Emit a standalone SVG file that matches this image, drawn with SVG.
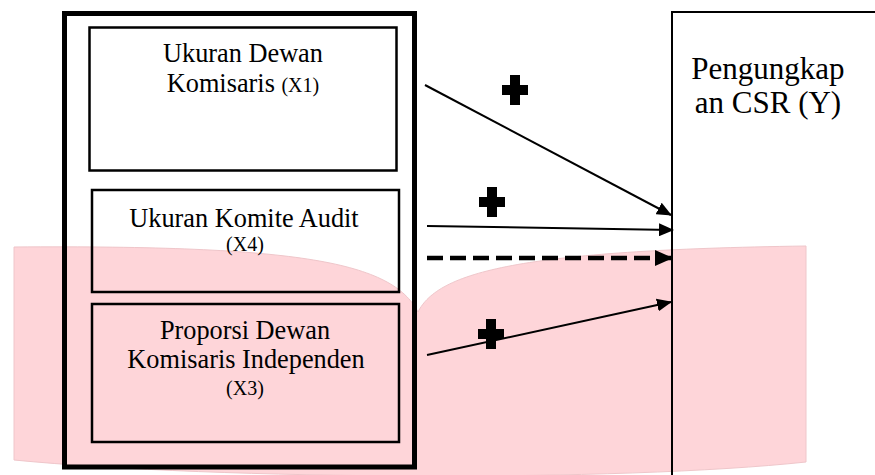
<svg xmlns="http://www.w3.org/2000/svg" width="875" height="475" viewBox="0 0 875 475">
<style>
.t{font-family:"Liberation Serif","Times New Roman",serif;fill:#000;text-anchor:middle}
.big{font-size:26.3px}
.sm{font-size:20px}
.box{fill:none;stroke:#000;stroke-width:2.5}
.con{stroke:#000;stroke-width:2;fill:none}
.plus{fill:#000}
</style>
<defs>
<marker id="ah" markerWidth="15" markerHeight="13" refX="14" refY="6.5" orient="auto" markerUnits="userSpaceOnUse" viewBox="0 0 15 13">
<path d="M0,0 L15,6.5 L0,13 z" fill="#000"/>
</marker>
<marker id="ahd" markerWidth="18" markerHeight="16" refX="17" refY="8" orient="auto" markerUnits="userSpaceOnUse" viewBox="0 0 18 16">
<path d="M0,0 L18,8 L0,16 z" fill="#000"/>
</marker>
</defs>
<path id="pink" d="M14,247 C300,245 392,262 418,312 C438,272 520,250 806,246 L806,462 C620,482 220,480 14,460 Z" fill="#FED5D9" stroke="#EFC6CA" stroke-width="1"/>
<g id="outer">
<rect x="64.5" y="13.5" width="350" height="453.5" fill="none" stroke="#000" stroke-width="5"/>
</g>
<g id="x1">
<rect class="box" x="89.5" y="27.5" width="307" height="143"/>
<text class="t big" x="243" y="62">Ukuran Dewan</text>
<text class="t big" x="243" y="92">Komisaris <tspan class="sm">(X1)</tspan></text>
</g>
<g id="x4">
<rect class="box" x="92" y="190" width="307" height="102"/>
<text class="t big" x="244" y="227">Ukuran Komite Audit</text>
<text class="t sm" x="245" y="251">(X4)</text>
</g>
<g id="x3">
<rect class="box" x="92" y="304" width="307" height="138"/>
<text class="t big" x="245" y="339">Proporsi Dewan</text>
<text class="t big" x="246" y="368">Komisaris Independen</text>
<text class="t sm" x="245" y="395">(X3)</text>
</g>
<g id="y">
<path d="M672,475 L672,12 L875,12" fill="none" stroke="#000" stroke-width="2"/>
<text class="t" style="font-size:31px" x="768" y="79">Pengungkap</text>
<text class="t" style="font-size:31px" x="768" y="113">an CSR (Y)</text>
</g>
<g id="connectors">
<line class="con" x1="425" y1="85" x2="671" y2="215" marker-end="url(#ah)"/>
<line class="con" x1="427" y1="226" x2="673" y2="230" marker-end="url(#ah)"/>
<line x1="427" y1="258" x2="672" y2="258" stroke="#000" stroke-width="4.5" stroke-dasharray="16,7" marker-end="url(#ahd)"/>
<line class="con" x1="427" y1="355" x2="671" y2="302" marker-end="url(#ah)"/>
</g>
<g id="signs">
<path class="plus" d="M510,75 h10 v10 h8 v10 h-8 v10 h-10 v-10 h-8 v-10 h8 z"/>
<path class="plus" d="M487,187 h10 v10 h8 v10 h-8 v10 h-10 v-10 h-8 v-10 h8 z"/>
<path class="plus" d="M486,319 h10 v10 h8 v10 h-8 v10 h-10 v-10 h-8 v-10 h8 z"/>
</g>
</svg>
